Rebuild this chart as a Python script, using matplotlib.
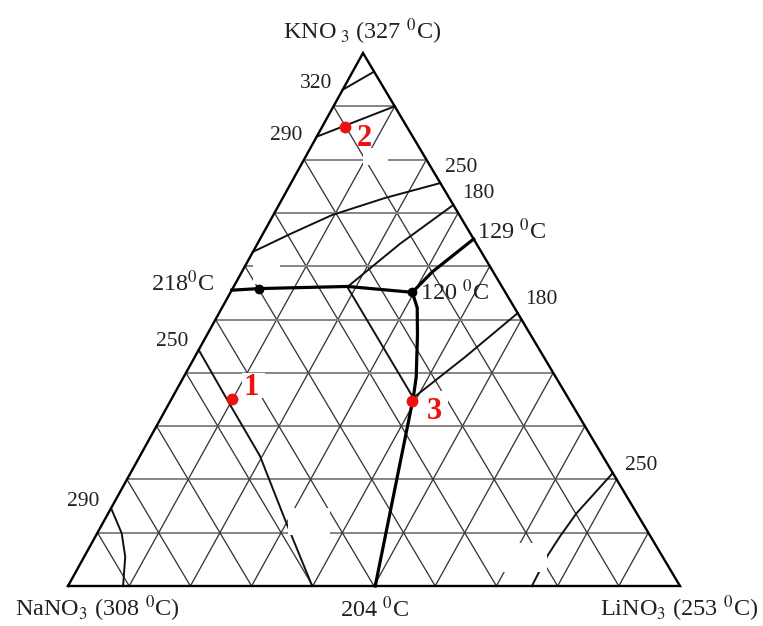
import matplotlib
matplotlib.use("Agg")
import matplotlib.pyplot as plt
from matplotlib.patches import Rectangle
import numpy as np

plt.rcParams['font.family'] = ['Liberation Serif', 'DejaVu Serif']
plt.rcParams['mathtext.fontset'] = 'stix'

# ---------------- data (ternary fractions: K = KNO3, Li = LiNO3) ----------------
grid_levels = [0.1, 0.2, 0.3, 0.4, 0.5, 0.6, 0.7, 0.8, 0.9]

iso320_K = [0.931, 0.965]
iso320_Li = [0.0, 0.035]

iso290_top_K = [0.843, 0.900]
iso290_top_Li = [0.0, 0.100]

iso250_top_K = [0.627, 0.662, 0.696, 0.728, 0.756]
iso250_top_Li = [0.0, 0.047, 0.096, 0.167, 0.244]

# 180 isotherm crossing KNO3, NaNO3 and LiNO3 fields
iso180_K = [0.715, 0.642, 0.561, 0.353, 0.430, 0.512]
iso180_Li = [0.285, 0.233, 0.186, 0.394, 0.442, 0.488]

iso250_left_K = [0.443, 0.343, 0.244, 0.124, 0.0]
iso250_left_Li = [0.0, 0.098, 0.196, 0.295, 0.399]

iso290_left_K = [0.146, 0.099, 0.055, 0.0]
iso290_left_Li = [0.0, 0.040, 0.067, 0.090]

iso250_right_K = [0.212, 0.136, 0.0925, 0.055, 0.0]
iso250_right_Li = [0.788, 0.765, 0.759, 0.756, 0.758]

# eutectic (boundary) lines
eut_218_K = [0.555, 0.558, 0.562, 0.551]
eut_218_Li = [0.0, 0.043, 0.186, 0.297]

eut_129_K = [0.551, 0.589, 0.651]
eut_129_Li = [0.297, 0.311, 0.349]

eut_204_K = [0.551, 0.522, 0.471, 0.392, 0.353, 0.0]
eut_204_Li = [0.297, 0.319, 0.344, 0.380, 0.394, 0.502]

black_pts_K = [0.558, 0.551]
black_pts_Li = [0.043, 0.297]

red_pts_K = [0.351, 0.861, 0.348]
red_pts_Li = [0.099, 0.038, 0.394]
red_labels = ['1', '2', '3']

# ---------------- geometry (pixel frame) ----------------
A = np.array([68.0, 586.0])    # NaNO3
B = np.array([680.0, 586.0])   # LiNO3
C = np.array([363.0, 53.0])    # KNO3


def tern(K, Li):
    K = np.asarray(K, float)
    Li = np.asarray(Li, float)
    Na = 1 - K - Li
    x = Na * A[0] + Li * B[0] + K * C[0]
    y = Na * A[1] + Li * B[1] + K * C[1]
    return x, y


fig = plt.figure(figsize=(7.63, 6.26), dpi=100)
ax = fig.add_axes([0, 0, 1, 1])
ax.set_xlim(0, 763)
ax.set_ylim(626, 0)
ax.axis('off')

# grid
for v in grid_levels:
    x, y = tern([v, v], [0, 1 - v])
    ax.plot(x, y, color='#858585', lw=1.4, zorder=1)
    x, y = tern([0, 1 - v], [v, v])
    ax.plot(x, y, color='#383838', lw=0.95, zorder=1)
    x, y = tern([0, 1 - v], [1 - v, 0])
    ax.plot(x, y, color='#383838', lw=0.95, zorder=1)

# triangle
x, y = tern([0, 0, 1, 0], [0, 1, 0, 0])
ax.plot(x, y, color='black', lw=1.7, zorder=3, solid_joinstyle='miter')

# isotherms
for Ks, Lis in [(iso320_K, iso320_Li), (iso290_top_K, iso290_top_Li),
                (iso250_top_K, iso250_top_Li), (iso180_K, iso180_Li),
                (iso250_left_K, iso250_left_Li), (iso290_left_K, iso290_left_Li),
                (iso250_right_K, iso250_right_Li)]:
    x, y = tern(Ks, Lis)
    ax.plot(x, y, color='#111111', lw=1.4, zorder=2)

# eutectic lines
for Ks, Lis in [(eut_218_K, eut_218_Li), (eut_129_K, eut_129_Li), (eut_204_K, eut_204_Li)]:
    x, y = tern(Ks, Lis)
    ax.plot(x, y, color='black', lw=2.3, zorder=4)

x, y = tern(black_pts_K, black_pts_Li)
ax.plot(x, y, 'o', color='black', ms=6, zorder=5)

# white masks (as in the source figure)
for (x0, y0, w, h) in [(363, 148, 25, 17), (253, 262, 27, 22), (242, 373, 23, 25),
                       (425, 391, 23, 29), (288, 508, 42, 27), (503, 543, 44, 29)]:
    ax.add_patch(Rectangle((x0, y0), w, h, facecolor='white', edgecolor='none', zorder=6))

x, y = tern(red_pts_K, red_pts_Li)
ax.plot(x, y, 'o', color='#ee1111', ms=7.5, zorder=7)
for (xx, yy, lab, dx, dy) in zip(x, y, red_labels, [19, 19, 23], [-11, 11, 11]):
    ax.text(xx + dx, yy + dy, lab, color='#ee1111', fontsize=22, fontweight='bold',
            ha='center', va='center', zorder=8)

# labels
big = 17.5
small = 15.5
ax.text(362, 32, r'KNO$_{\ 3}$ (327 $^0$C)', fontsize=big, ha='center', va='center', color='#222222')
ax.text(97, 609, r'NaNO$_3$ (308 $^0$C)', fontsize=big, ha='center', va='center', color='#222222')
ax.text(375, 609, r'204 $^0$C', fontsize=big, ha='center', va='center', color='#222222')
ax.text(679, 609, r'LiNO$_3$ (253 $^0$C)', fontsize=big, ha='center', va='center', color='#222222')
ax.text(512, 231, r'129 $^0$C', fontsize=big, ha='center', va='center', color='#222222')
ax.text(455, 292, r'120 $^0$C', fontsize=big, ha='center', va='center', color='#222222',
        zorder=6)
ax.text(183, 283, r'218$^0$C', fontsize=big, ha='center', va='center', color='#222222')

for (xx, yy, t) in [(316, 83, '320'), (286, 136, '290'), (461, 167, '250'), (478, 193, '180'),
                    (541, 300, '180'), (172, 341, '250'), (83, 501, '290'), (641, 465, '250')]:
    ax.text(xx, yy, t, fontsize=small, ha='center', va='center', color='#222222')

fig.savefig('out.png', dpi=100)
